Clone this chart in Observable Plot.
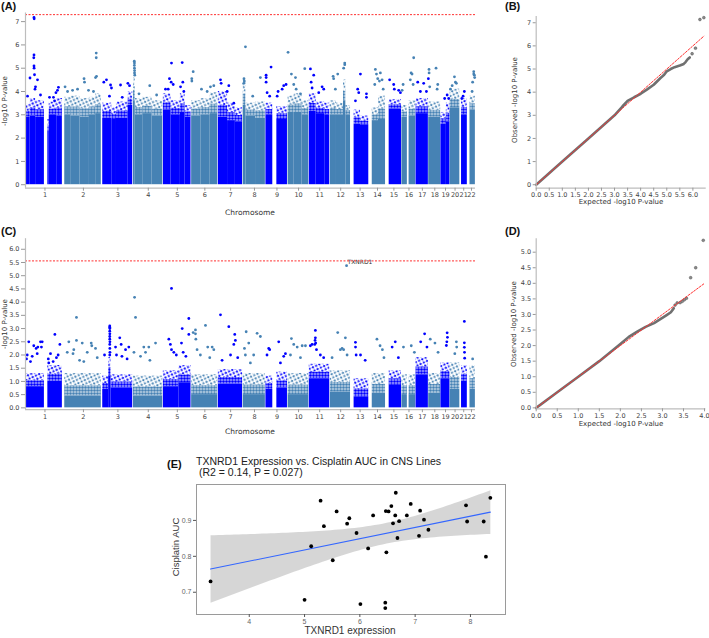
<!DOCTYPE html>
<html><head><meta charset="utf-8">
<script src="https://cdn.jsdelivr.net/npm/d3@7"></script>
<script src="https://cdn.jsdelivr.net/npm/@observablehq/plot@0.6"></script>
<style>
body{margin:0;background:#fff;}
#root{position:relative;width:709px;height:638px;overflow:hidden;background:#fff;font-family:"DejaVu Sans",sans-serif;}
.abs{position:absolute;}
.plab{font:bold 11px "Liberation Sans",Arial,sans-serif;color:#111;}
.alab{font-size:7px;color:#333;font-family:"DejaVu Sans",sans-serif;}
.elab{font-family:"Liberation Sans",Arial,sans-serif;color:#333;}
</style></head><body>
<svg width="0" height="0" style="position:absolute;left:0;top:0">
 <defs>
  <pattern id="denseB" width="3" height="3" patternUnits="userSpaceOnUse">
   <rect width="3" height="3" fill="#0000ff" fill-opacity="0.3"/><circle cx="1.5" cy="1.5" r="1.3" fill="#0000ff"/>
  </pattern>
  <pattern id="denseS" width="3" height="3" patternUnits="userSpaceOnUse">
   <rect width="3" height="3" fill="#4682b4" fill-opacity="0.3"/><circle cx="1.5" cy="1.5" r="1.3" fill="#4682b4"/>
  </pattern>
  <pattern id="sparseB" width="5" height="5" patternUnits="userSpaceOnUse" patternTransform="rotate(20)">
   <circle cx="1.2" cy="1.2" r="1.15" fill="#0000ff"/><circle cx="3.7" cy="3.6" r="1.15" fill="#0000ff"/>
  </pattern>
  <pattern id="sparseS" width="5" height="5" patternUnits="userSpaceOnUse" patternTransform="rotate(20)">
   <circle cx="1.2" cy="1.2" r="1.15" fill="#4682b4"/><circle cx="3.7" cy="3.6" r="1.15" fill="#4682b4"/>
  </pattern>
 </defs>
</svg>
<div id="root"></div>
<script>
// ---------------- DATA ----------------
const chromosomes = ["1","2","3","4","5","6","7","8","9","10","11","12","13","14","15","16","17","18","19","20","21","22"];
const chromLengthMb = [249.25,243.2,198.0,191.2,180.9,171.1,159.1,146.4,141.2,135.5,135.0,133.9,115.2,107.3,102.5,90.4,81.2,78.1,59.1,63.0,48.1,51.3];

// Panel A: dense bands [chr, startMb, endMb, solidTop, fuzzyTop]
const bandsA = [
 [1,0,30,2.9,3.45],[1,30,65,2.95,3.7],[1,65,121,2.9,3.6],[1,143,152,2.3,2.8],[1,152,200,3.0,3.55],[1,200,236,2.95,3.7],
 [2,2,40,3.0,3.75],[2,40,100,2.95,3.8],[2,100,160,2.9,3.7],[2,160,200,3.0,3.75],[2,200,236,3.05,3.9],
 [3,2,60,2.85,3.5],[3,60,90,2.8,3.3],[3,90,165,2.85,3.55],[3,165,194,3.4,4.0],
 [4,1,12,3.6,4.6],[4,12,60,3.0,3.7],[4,60,120,3.05,3.75],[4,120,188,2.95,3.6],
 [5,1,50,3.2,3.9],[5,50,110,3.0,3.6],[5,110,140,3.1,3.9],[5,140,178,2.9,3.4],
 [6,1,60,2.95,3.6],[6,60,120,3.0,3.7],[6,120,168,3.05,3.95],
 [7,1,60,2.9,4.0],[7,60,110,2.75,3.5],[7,110,156,2.7,3.3],
 [8,1,18,3.4,4.5],[8,18,80,2.95,3.5],[8,80,143,2.85,3.55],
 [9,0,44,3.0,3.5],[9,70,138,2.8,3.35],
 [10,1,40,3.1,3.8],[10,40,90,3.1,3.9],[10,90,133,3.0,3.6],
 [11,1,45,3.15,3.9],[11,45,100,3.05,3.55],[11,100,132,3.0,3.5],
 [12,1,40,3.0,3.6],[12,40,85,3.0,3.5],[12,85,100,3.6,4.5],[12,100,130,3.0,3.4],
 [13,19,60,2.6,3.2],[13,60,113,2.55,2.95],
 [14,20,60,2.75,3.3],[14,60,105,2.8,3.8],
 [15,21,100,3.25,3.65],
 [16,0,35,2.9,3.4],[16,46,88,2.95,3.6],
 [17,0,79,3.05,3.7],
 [18,0,76.5,2.9,3.55],
 [19,0,35,2.6,3.1],[19,35,58,2.7,3.5],
 [20,0,62,3.3,4.1],
 [21,10,47,3.0,3.7],
 [22,16,50.5,3.2,3.8]
];
// Panel A: individual upper points [chr, Mb, -log10 P]
const pointsA = [
 [1,54.4,7.18],[1,55.5,7.12],[1,54.4,5.57],[1,53,5.45],[1,54.4,5.1],[1,55,5.0],[1,57.6,4.72],[1,76.8,4.5],[1,28.8,4.58],[1,64,4.2],[1,60.8,4.1],[1,12.8,3.8],[1,96,3.85],[1,153.6,3.75],[1,179,3.75],[1,195,3.95],[1,205,4.05],[1,211,4.18],[1,186,3.6],
 [2,203.6,5.65],[2,203.6,5.45],[2,199,4.6],[2,205.5,4.65],[2,125.5,4.55],[2,128.5,4.4],[2,84,4.1],[2,4,4.2],[2,20,4.0],[2,52,4.05],[2,154,4.05],[2,186,4.0],
 [3,9,4.4],[3,26,4.5],[3,52,4.28],[3,58,4.15],[3,45,3.8],[3,116,4.28],[3,163,4.35],[3,173.5,4.25],[3,127,3.75],
 [4,6,5.3],[4,7,5.22],[4,6.5,5.12],[4,7,5.0],[4,8,4.9],[4,7.5,4.8],[4,9,4.7],[4,36,3.9],[4,105,4.25],[4,149,3.85],
 [5,53,5.22],[5,121.6,5.24],[5,40,4.55],[5,51,4.4],[5,64,4.3],[5,125.5,4.4],[5,111,4.2],[5,14.7,4.1],[5,132,4.0],[5,32,4.1],
 [6,11,4.85],[6,2,4.55],[6,2.5,4.45],[6,64,4.1],[6,121.6,4.2],[6,143,4.25],[6,100.5,4.0],
 [7,14.7,4.5],[7,19,4.35],[7,68,4.25],[7,57.6,4.0],[7,100,3.5],
 [8,15.4,5.92],[8,6,4.55],[8,8,4.45],[8,5,4.35],[8,111,4.6],[8,62,3.8],
 [9,1.3,4.7],[9,1.5,4.6],[9,1.3,4.4],[9,33,5.05],[9,24,3.8],[9,7.7,3.95],[9,72,3.8],[9,78,4.0],[9,104,4.1],[9,114,4.25],[9,129,4.3],
 [10,0.6,5.68],[10,22,4.75],[10,48,4.6],[10,37,4.3],[10,52.5,4.1],[10,107.5,4.98],[10,80,3.9],
 [11,8.3,4.97],[11,29.4,4.7],[11,12.8,4.4],[11,19,4.15],[11,83,4.2],[11,93.5,4.1],[11,61.5,3.95],
 [12,93,5.22],[12,93,5.15],[12,86,5.0],[12,18.6,4.65],[12,22,4.55],[12,48,4.75],[12,33,4.1],
 [13,59.5,4.75],[13,42,4.1],[13,48.7,3.95],[13,98,3.9],[13,98,3.75],[13,27.5,3.6],
 [14,40,4.95],[14,47,4.75],[14,72,4.8],[14,55,4.55],[14,66,4.45],[14,83,4.5],[14,36,4.3],[14,90,4.1],
 [15,24,4.5],[15,50,4.3],[15,54,4.1],[15,82,4.05],[15,93,3.95],
 [16,75.5,5.45],[16,59,4.8],[16,65,4.75],[16,7.7,4.3],[16,1.3,4.05],[16,54,4.5],[16,72,4.3],
 [17,11,4.4],[17,28,4.0],[17,49,4.35],[17,66.5,4.0],[17,79,4.55],
 [18,2,4.95],[18,2.5,4.8],[18,47,5.0],[18,58,4.3],[18,54,4.1],[18,6.5,4.2],
 [19,40,3.85],[19,24,3.7],[19,50,3.7],
 [20,27.5,4.63],[20,34,4.4],[20,40,4.35],[20,13,4.25],[20,2,4.1],
 [21,28,4.0],[21,20,3.8],[21,12,3.7],
 [22,40,4.85],[22,40,4.75],[22,44,4.7],[22,33,4.4],[22,29.5,4.0],[22,46,4.6]
];
const thresholdA = 7.3;
const yTicksA = [0,1,2,3,4,5,6,7];

// Panel B: QQ (expected, observed)
const qqBExpected = [0,1,2,3,3.3,3.5,3.75,4.0,4.25,4.5,4.75,4.9,5.0,5.15,5.3,5.5,5.65,5.72,5.8,5.88];
const qqBObserved = [0,1,2,3,3.38,3.62,3.78,3.93,4.12,4.32,4.6,4.75,4.9,5.0,5.08,5.15,5.22,5.3,5.42,5.5];
const qqBTailExpected = [5.97,6.1,6.27,6.42];
const qqBTailObserved = [5.66,5.9,7.14,7.22];
const xTicksB = [0,0.5,1,1.5,2,2.5,3,3.5,4,4.5,5,5.5,6];
const yTicksB = [0,1,2,3,4,5,6,7];

// Panel C
const bandsC = [
 [1,0,121,0.8,1.3],[1,143,236,1.0,1.6],
 [2,2,236,0.45,1.3],
 [3,2,40,0.7,1.2],[3,40,55,1.2,1.9],[3,55,194,0.75,1.25],
 [4,1,188,0.45,1.2],
 [5,1,100,0.8,1.4],[5,100,178,0.95,1.6],
 [6,1,168,0.5,1.25],
 [7,1,156,0.9,1.45],
 [8,1,143,0.5,1.3],
 [9,0,44,0.7,1.2],[9,70,138,0.75,1.35],
 [10,1,133,0.5,1.3],
 [11,1,132,1.1,1.65],
 [12,1,130,0.6,1.4],
 [13,19,113,0.4,1.1],
 [14,20,105,0.55,1.3],
 [15,21,100,0.85,1.4],
 [16,0,35,0.5,1.25],[16,46,88,0.5,1.25],
 [17,0,79,1.25,1.9],
 [18,0,76.5,0.55,1.3],
 [19,0,58,1.1,1.7],
 [20,0,62,0.7,1.7],
 [21,10,47,1.0,1.6],
 [22,16,50.5,0.7,1.6]
];
const pointsC = [
 [1,21,2.5],[1,11,2.0],[1,53,2.35],[1,68,2.25],[1,79,2.3],[1,96,2.5],[1,107,2.5],[1,102,2.3],[1,75,2.05],[1,43,1.95],[1,32,1.75],[1,6.4,1.85],[1,188,2.78],[1,160,2.05],[1,220,2.4],[1,209,2.0],[1,198,1.9],[1,177,1.75],[1,146,1.85],[1,149,1.7],
 [2,77,3.42],[2,77,2.55],[2,28,2.5],[2,60,2.2],[2,55,2.05],[2,114,2.45],[2,171.5,2.45],[2,175,2.35],[2,199,2.25],[2,210,1.9],[2,146,2.1],[2,124,1.75],[2,18,2.1],[2,97,1.8],
 [3,47,3.1],[3,47,3.05],[3,47.5,3.0],[3,47,2.9],[3,47.5,2.8],[3,47,2.7],[3,47,2.6],[3,48,2.5],[3,47,2.4],[3,47.5,2.25],[3,48,2.1],[3,47,2.0],[3,111,2.65],[3,120,2.4],[3,148,2.2],[3,169,2.3],[3,84,2.3],[3,90,2.0],[3,13.5,2.0],[3,125,1.95],[3,158,1.85],
 [4,7.7,4.18],[4,14,3.42],[4,4,2.1],[4,67,2.3],[4,99,2.3],[4,142,2.45],[4,78,2.1],[4,46,1.95],[4,106,1.8],
 [5,53,4.52],[5,164,3.38],[5,121.6,3.0],[5,36,2.6],[5,46,2.4],[5,53,2.2],[5,68,2.1],[5,117,2.45],[5,128,2.1],[5,164,2.78],[5,145,1.95],[5,84,2.0],
 [6,11,2.85],[6,25.6,2.95],[6,25.6,2.8],[6,28,2.6],[6,89.6,3.12],[6,104,2.3],[6,132.5,2.3],[6,143,2.2],[6,117,1.9],[6,57,2.0],[6,36,2.2],
 [7,14.7,3.52],[7,68,3.07],[7,106,2.78],[7,110,2.55],[7,100,2.4],[7,25,1.8],[7,79,2.0],[7,125,1.9],
 [8,20,2.88],[8,36.5,2.45],[8,9,2.25],[8,90,2.82],[8,111,2.7],[8,68,2.0],[8,15,2.0],[8,47,1.7],
 [9,18,2.25],[9,24,2.2],[9,7,2.0],[9,82,2.5],[9,125,2.05],[9,114,1.95],[9,93,1.7],
 [10,22,2.62],[10,37,2.4],[10,59,2.3],[10,91,2.35],[10,112,2.35],[10,80,1.9],[10,16,2.0],
 [11,40,2.93],[11,40,2.65],[11,38,2.55],[11,42,2.45],[11,36,2.4],[11,47,2.2],[11,8,2.35],[11,19,2.4],[11,72,2.0],[11,93,1.9],
 [12,48,2.85],[12,97,2.65],[12,76,2.25],[12,86,2.2],[12,65,2.2],[12,108,2.0],[12,12,1.9],
 [13,27.5,2.48],[13,28,2.3],[13,32,2.0],[13,60,2.0],[13,90,1.8],
 [14,50,2.6],[14,70,2.35],[14,85,2.2],[14,95,1.9],
 [15,40,2.3],[15,60,2.5],[15,80,1.9],
 [16,10,2.3],[16,60,2.35],[16,80,2.1],
 [17,30,2.5],[17,55,2.8],[17,70,2.3],
 [18,10,2.6],[18,40,2.45],[18,60,2.1],
 [19,40,2.84],[19,42,2.67],[19,38,2.5],[19,35,2.36],
 [20,40,2.5],[20,42,2.3],[20,30,2.05],
 [21,28,3.27],[21,28,2.46],[21,28,2.29],[21,29,2.1],[21,30,1.88],
 [22,33,1.85]
];
const hitC = [[12,104.6,5.38,"TXNRD1"]];
const thresholdC = 5.56;
const yTicksC = [0,0.5,1,1.5,2,2.5,3,3.5,4,4.5,5,5.5,6];

// Panel D: QQ
const qqDExpected = [0,0.5,1.0,1.5,2.0,2.2,2.4,2.6,2.8,2.95,3.1,3.2,3.27];
const qqDObserved = [0,0.5,1.0,1.5,2.05,2.28,2.45,2.6,2.72,2.85,2.98,3.07,3.2];
const qqDTailExpected = [3.3,3.35,3.42,3.47,3.52,3.57,3.67,3.79,3.97];
const qqDTailObserved = [3.3,3.37,3.38,3.42,3.47,3.52,4.18,4.5,5.38];
const xTicksD = [0,0.5,1,1.5,2,2.5,3,3.5,4];
const yTicksD = [0,0.5,1,1.5,2,2.5,3,3.5,4,4.5,5];

// Panel E: scatter
const expressionE = [3.30,5.00,5.12,5.29,5.35,5.51,5.58,5.77,5.81,5.94,6.01,6.15,6.24,6.47,6.52,6.48,6.46,6.46,6.57,6.65,6.64,6.60,6.71,6.68,6.85,6.92,7.09,7.16,7.07,7.24,7.92,7.94,8.24,8.28,8.36];
const aucE = [0.730,0.679,0.828,0.955,0.884,0.789,0.925,0.891,0.906,0.865,0.667,0.822,0.914,0.926,0.925,0.811,0.671,0.656,0.940,0.977,0.914,0.892,0.898,0.851,0.914,0.946,0.927,0.902,0.857,0.874,0.942,0.897,0.897,0.799,0.963];
const xTicksE = [4,5,6,7,8];
const yTicksE = [0.7,0.8,0.9];

// ---------------- HELPERS ----------------
const root = document.getElementById("root");
const offsets = chromLengthMb.map((_, i) => d3.sum(chromLengthMb.slice(0, i)));
const totalMb = d3.sum(chromLengthMb);
const centers = chromLengthMb.map((l, i) => offsets[i] + l / 2);
const gpos = (chr, mb) => offsets[chr - 1] + mb;
const odd = chr => chr % 2 === 1;
const chrColor = chr => (odd(chr) ? "#0000ff" : "#4682b4");
const SPINE = "#bdbdbd";

function place(node, left, top) {
  const d = document.createElement("div");
  d.className = "abs";
  d.style.left = left + "px"; d.style.top = top + "px";
  d.appendChild(node); root.appendChild(d);
}
function text(str, x, y, cls, mode, style) {
  const d = document.createElement("div");
  d.className = "abs " + cls;
  d.innerHTML = str;
  d.style.left = x + "px"; d.style.top = y + "px"; d.style.whiteSpace = "nowrap";
  if (mode === "rot") d.style.transform = "translate(-50%,-50%) rotate(-90deg)";
  else if (mode === "ctr") d.style.transform = "translate(-50%,-50%)";
  if (style) d.style.cssText += style;
  root.appendChild(d);
}

function manhattan({bands, points, threshold, yDomain, yTicks, yFormat, height, marginTop, marginBottom, hits}) {
  const bandData = bands.map(([chr, s, e, solid, fuzzy]) => ({chr, x1: gpos(chr, s), x2: gpos(chr, e), solid, mid: solid + (fuzzy - solid) * 0.45, fuzzy}));
  const ptData = points.map(([chr, mb, v]) => ({chr, x: gpos(chr, mb), v}));
  const hitData = (hits || []).map(([chr, mb, v, name]) => ({chr, x: gpos(chr, mb), v, name}));
  return Plot.plot({
    width: 480, height, marginLeft: 25, marginRight: 5, marginTop, marginBottom,
    style: {fontFamily: "DejaVu Sans", background: "transparent", overflow: "visible"},
    color: {type: "identity"},
    x: {domain: [0, totalMb]},
    y: {domain: yDomain},
    marks: [
      Plot.rect(bandData, {x1: "x1", x2: "x2", y1: 0, y2: "solid", fill: d => chrColor(d.chr)}),
      Plot.rect(bandData, {x1: "x1", x2: "x2", y1: "solid", y2: "mid", fill: d => odd(d.chr) ? "url(#denseB)" : "url(#denseS)"}),
      Plot.rect(bandData, {x1: "x1", x2: "x2", y1: "mid", y2: "fuzzy", fill: d => odd(d.chr) ? "url(#sparseB)" : "url(#sparseS)"}),
      Plot.dot(ptData, {x: "x", y: "v", r: 1.4, fill: d => chrColor(d.chr)}),
      Plot.dot(hitData, {x: "x", y: "v", r: 1.4, fill: d => chrColor(d.chr)}),
      Plot.text(hitData, {x: "x", y: "v", text: "name", dx: 1, dy: -4, textAnchor: "start", fontSize: 6, fill: "#333"}),
      Plot.ruleY([threshold], {stroke: "#ff3030", strokeDasharray: "2,1.5", strokeWidth: 1}),
      Plot.ruleX([0], {stroke: SPINE, strokeWidth: 1.2}),
      Plot.ruleY([yDomain[0]], {stroke: SPINE, strokeWidth: 1.2}),
      Plot.axisY({ticks: yTicks, tickFormat: yFormat, tickSize: 4, tickPadding: 2, fontSize: 6.5, stroke: "#999", fill: "#444", label: null}),
      Plot.axisX({ticks: centers, tickFormat: c => chromosomes[centers.indexOf(c)], tickSize: 3, tickPadding: 1.5, fontSize: 6.5, stroke: "#999", fill: "#444", label: null})
    ]
  });
}

function qq({ex, ob, tex, tob, diagMax, xDomain, yDomain, xTicks, yTicks, yFormat, height, marginTop, marginBottom, marginRight}) {
  const line = ex.map((e, i) => ({e, o: ob[i]}));
  const tail = tex.map((e, i) => ({e, o: tob[i]}));
  return Plot.plot({
    width: 269, height, marginLeft: 95.7, marginRight, marginTop, marginBottom,
    style: {fontFamily: "DejaVu Sans", background: "transparent", overflow: "visible"},
    x: {domain: xDomain}, y: {domain: yDomain},
    marks: [
      Plot.line(line, {x: "e", y: "o", stroke: "#707070", strokeWidth: 2.6}),
      Plot.dot(tail, {x: "e", y: "o", r: 1.4, fill: "#8a8a8a", stroke: "#555", strokeWidth: 0.5}),
      Plot.line([{e: 0, o: 0}, {e: diagMax, o: diagMax}], {x: "e", y: "o", stroke: "#ff3030", strokeDasharray: "2,1.5", strokeWidth: 1}),
      Plot.ruleX([xDomain[0]], {stroke: SPINE, strokeWidth: 1.2}),
      Plot.ruleY([yDomain[0]], {stroke: SPINE, strokeWidth: 1.2}),
      Plot.axisY({ticks: yTicks, tickFormat: yFormat, tickSize: 3, tickPadding: 2, fontSize: 6.5, stroke: "#999", fill: "#444", label: null}),
      Plot.axisX({ticks: xTicks, tickFormat: d3.format(".1f"), tickSize: 3, tickPadding: 1.5, fontSize: 6.5, stroke: "#999", fill: "#444", label: null})
    ]
  });
}

// ---------------- PANEL A ----------------
place(manhattan({bands: bandsA, points: pointsA, threshold: thresholdA, yDomain: [-0.15, 7.37], yTicks: yTicksA,
  yFormat: d3.format("d"), height: 205, marginTop: 12.5, marginBottom: 17.3}), 0, 0);
text("(A)", 1, 0, "plab");
text("-log10 P-value", 4.5, 101, "alab", "rot");
text("Chromosome", 250, 212, "alab", "ctr", "font-size:7.5px;");

// ---------------- PANEL B ----------------
place(qq({ex: qqBExpected, ob: qqBObserved, tex: qqBTailExpected, tob: qqBTailObserved, diagMax: 6.42,
  xDomain: [0, 6.51], yDomain: [-0.15, 7.27], xTicks: xTicksB, yTicks: yTicksB, yFormat: d3.format("d"),
  height: 205, marginTop: 16, marginBottom: 17.3, marginRight: 3.3}), 440, 0);
text("(B)", 505, 0, "plab");
text("Observed -log10 P-value", 515, 100, "alab", "rot");
text("Expected -log10 P-value", 621, 202, "alab", "ctr");

// ---------------- PANEL C ----------------
place(manhattan({bands: bandsC, points: pointsC, threshold: thresholdC, yDomain: [-0.07, 6.4], yTicks: yTicksC,
  yFormat: d3.format(".1f"), height: 210, marginTop: 23.2, marginBottom: 15.8, hits: hitC}), 0, 215);
text("(C)", 1, 225, "plab");
text("-log10 P-value", 4.5, 324, "alab", "rot");
text("Chromosome", 250, 431, "alab", "ctr", "font-size:7.5px;");

// ---------------- PANEL D ----------------
place(qq({ex: qqDExpected, ob: qqDObserved, tex: qqDTailExpected, tob: qqDTailObserved, diagMax: 3.98,
  xDomain: [0, 4.03], yDomain: [-0.03, 5.43], xTicks: xTicksD, yTicks: yTicksD, yFormat: d3.format(".1f"),
  height: 210, marginTop: 23.3, marginBottom: 16.7, marginRight: 3.7}), 440, 215);
text("(D)", 505, 225, "plab");
text("Observed -log10 P-value", 514, 324, "alab", "rot");
text("Expected -log10 P-value", 621, 424, "alab", "ctr");

// ---------------- PANEL E ----------------
const scatter = expressionE.map((x, i) => ({x, y: aucE[i]}));
place(Plot.plot({
  width: 360, height: 198, marginLeft: 36, marginRight: 15, marginTop: 44, marginBottom: 24,
  style: {fontFamily: "Liberation Sans, Arial, sans-serif", background: "transparent", overflow: "visible"},
  x: {domain: [3.046, 8.634]}, y: {domain: [0.638, 1.0]},
  marks: [
    Plot.linearRegressionY(scatter, {x: "x", y: "y", stroke: "#3366ff", strokeWidth: 1.1, fill: "#999", fillOpacity: 0.4, ci: 0.95}),
    Plot.dot(scatter, {x: "x", y: "y", r: 1.9, fill: "#000"}),
    Plot.frame({stroke: "#9a9a9a", strokeWidth: 1}),
    Plot.axisX({ticks: xTicksE, tickFormat: d3.format("d"), tickSize: 3, tickPadding: 2, fontSize: 7, stroke: "#555", fill: "#666", label: null}),
    Plot.axisY({ticks: yTicksE, tickFormat: d3.format(".1f"), tickSize: 3, tickPadding: 2, fontSize: 7, stroke: "#555", fill: "#666", label: null})
  ]
}), 160, 440);
text("(E)", 167, 458, "plab");
text("TXNRD1 Expression vs. Cisplatin AUC in CNS Lines<br>&nbsp;(R2 = 0.14, P = 0.027)", 196, 456, "elab", null, "font-size:10.5px;line-height:10.5px;color:#222;");
text("Cisplatin AUC", 175, 547, "elab", "rot", "font-size:9.5px;");
text("TXNRD1 expression", 350, 630, "elab", "ctr", "font-size:10px;");
</script></body></html>
